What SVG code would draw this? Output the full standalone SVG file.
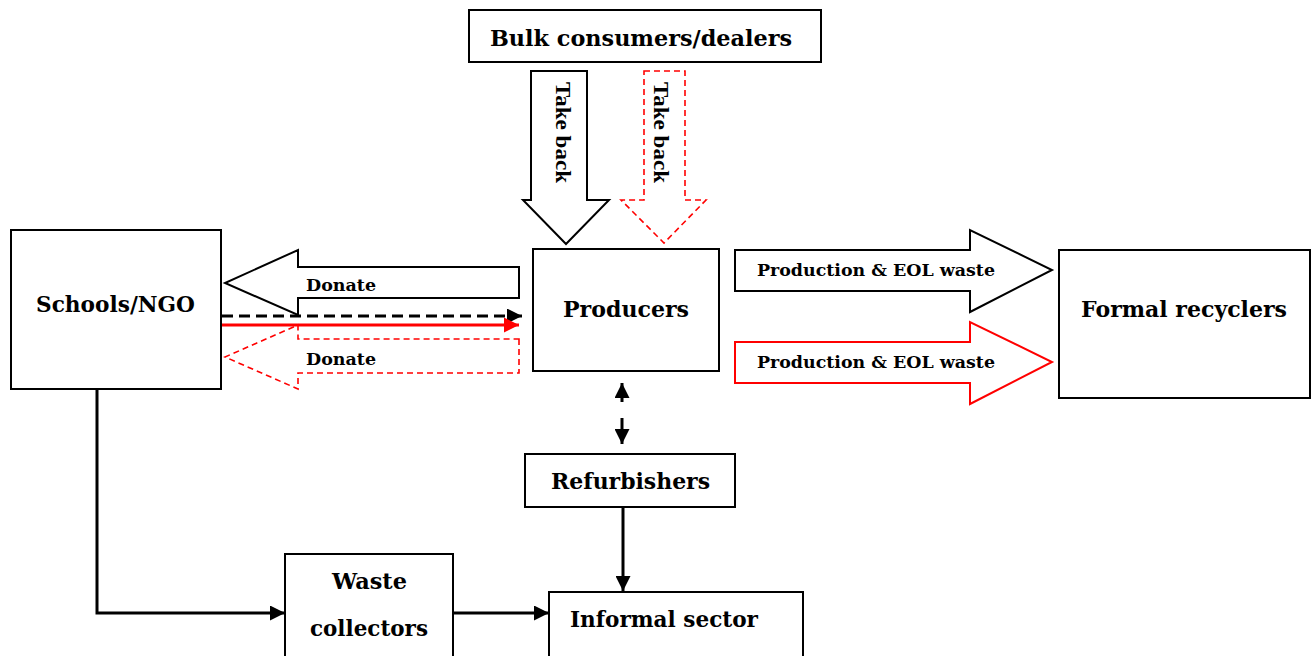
<svg xmlns="http://www.w3.org/2000/svg" width="1315" height="656" viewBox="0 0 1315 656">
  <style>
    .box { fill: #fff; stroke: #000; stroke-width: 2; }
    .lbl { font-family: "DejaVu Serif", "Liberation Serif", serif; font-weight: bold; fill: #000; text-anchor: middle; }
    .big { font-size: 23px; }
    .small { font-size: 17px; }
    .tb { font-family: "Liberation Serif", "DejaVu Serif", serif; font-size: 20px; }
    .blk { fill: #fff; stroke: #000; stroke-width: 2; }
    .red { fill: #fff; stroke: #f00; stroke-width: 2; }
    .reddash { fill: #fff; stroke: #f00; stroke-width: 1.6; stroke-dasharray: 6 4; }
    .line { fill: none; stroke: #000; stroke-width: 3; }
  </style>
  <defs>
    <marker id="ah" viewBox="0 0 10 10" refX="10" refY="5" markerWidth="5" markerHeight="5" orient="auto" markerUnits="strokeWidth">
      <path d="M0,0 L10,5 L0,10 z" fill="#000"/>
    </marker>
    <marker id="ahr" viewBox="0 0 10 10" refX="10" refY="5" markerWidth="5" markerHeight="5" orient="auto" markerUnits="strokeWidth">
      <path d="M0,0 L10,5 L0,10 z" fill="#f00"/>
    </marker>
  </defs>

  <g id="connectors">
    <!-- take back block arrows -->
    <path class="blk" d="M531,71 H587 V200 H609 L566,244 L523,200 H531 Z"/>
    <path class="reddash" d="M644,71 H685 V200 H706 L664,243 L621,200 H644 Z"/>
    <!-- donate block arrows -->
    <path class="blk" d="M519,267 V298 H298 V315 L225,283 L298,250 V267 Z"/>
    <path class="reddash" d="M519,339 V373 H298 V389 L225,357 L298,325 V339 Z"/>
    <!-- flows from schools to producers -->
    <line x1="222" y1="316" x2="522" y2="316" stroke="#000" stroke-width="3" stroke-dasharray="11 6" marker-end="url(#ah)"/>
    <line x1="222" y1="325" x2="519" y2="325" stroke="#f00" stroke-width="3" marker-end="url(#ahr)"/>
    <!-- production & EOL waste block arrows -->
    <path class="blk" d="M735,250 H970 V230 L1052,270 L970,312 V291 H735 Z"/>
    <path class="red" d="M735,342 H970 V322 L1052,362 L970,404 V383 H735 Z"/>
    <!-- producers <-> refurbishers -->
    <line x1="622" y1="402" x2="622" y2="383" stroke="#000" stroke-width="3" marker-end="url(#ah)"/>
    <line x1="622" y1="418" x2="622" y2="444" stroke="#000" stroke-width="3" marker-end="url(#ah)"/>
    <!-- refurbishers to informal sector -->
    <line class="line" x1="623" y1="507" x2="623" y2="591" marker-end="url(#ah)"/>
    <!-- schools to waste collectors -->
    <path class="line" d="M97,389 V613 H285" marker-end="url(#ah)"/>
    <!-- waste collectors to informal sector -->
    <line class="line" x1="453" y1="613" x2="549" y2="613" marker-end="url(#ah)"/>
  </g>

  <g id="labels-arrows">
    <text class="lbl tb" transform="translate(556,132.5) rotate(90)" textLength="101" lengthAdjust="spacingAndGlyphs">Take back</text>
    <text class="lbl tb" transform="translate(654,132.5) rotate(90)" textLength="101" lengthAdjust="spacingAndGlyphs">Take back</text>
    <text class="lbl small" x="341" y="291" textLength="70" lengthAdjust="spacingAndGlyphs">Donate</text>
    <text class="lbl small" x="341" y="365" textLength="70" lengthAdjust="spacingAndGlyphs">Donate</text>
    <text class="lbl small" x="876" y="276" textLength="238" lengthAdjust="spacingAndGlyphs">Production &amp; EOL waste</text>
    <text class="lbl small" x="876" y="368" textLength="238" lengthAdjust="spacingAndGlyphs">Production &amp; EOL waste</text>
  </g>

  <g id="bulk">
    <rect class="box" x="469" y="10" width="352" height="52"/>
    <text class="lbl big" x="641" y="46" textLength="302" lengthAdjust="spacingAndGlyphs">Bulk consumers/dealers</text>
  </g>
  <g id="schools">
    <rect class="box" x="11" y="230" width="210" height="159"/>
    <text class="lbl big" x="115.5" y="312" textLength="159" lengthAdjust="spacingAndGlyphs">Schools/NGO</text>
  </g>
  <g id="producers">
    <rect class="box" x="533" y="249" width="186" height="122"/>
    <text class="lbl big" x="626" y="317" textLength="126" lengthAdjust="spacingAndGlyphs">Producers</text>
  </g>
  <g id="formal">
    <rect class="box" x="1059" y="250" width="251" height="148"/>
    <text class="lbl big" x="1184" y="317" textLength="206" lengthAdjust="spacingAndGlyphs">Formal recyclers</text>
  </g>
  <g id="refurbishers">
    <rect class="box" x="525" y="454" width="210" height="53"/>
    <text class="lbl big" x="630.5" y="489" textLength="159" lengthAdjust="spacingAndGlyphs">Refurbishers</text>
  </g>
  <g id="waste-collectors">
    <rect class="box" x="285" y="554" width="168" height="110"/>
    <text class="lbl big" x="369.5" y="589" textLength="75" lengthAdjust="spacingAndGlyphs">Waste</text>
    <text class="lbl big" x="369" y="636" textLength="118" lengthAdjust="spacingAndGlyphs">collectors</text>
  </g>
  <g id="informal">
    <rect class="box" x="549" y="592" width="254" height="72"/>
    <text class="lbl big" x="664" y="627" textLength="188" lengthAdjust="spacingAndGlyphs">Informal sector</text>
  </g>
</svg>
